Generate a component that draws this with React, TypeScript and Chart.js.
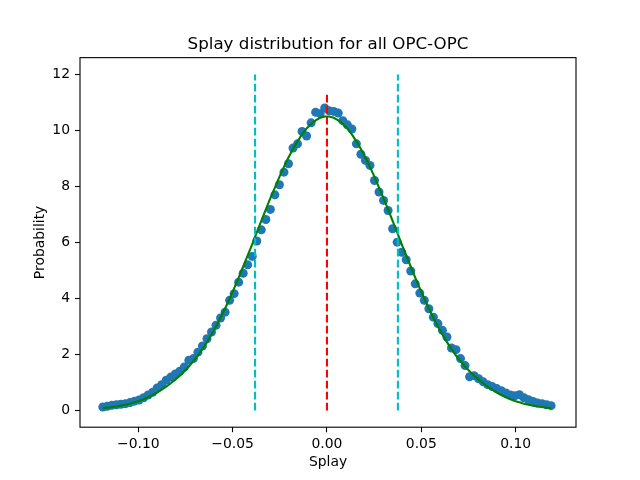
import { useEffect, useRef } from "react";
import { Chart, registerables } from "chart.js";

Chart.register(...registerables);

// bin centres of the splay histogram
const SPLAY = [
  -0.1188, -0.1164, -0.114, -0.1116, -0.1092, -0.1068, -0.1044, -0.102, -0.0996, -0.0972,
  -0.0948, -0.0924, -0.09, -0.0876, -0.0852, -0.0828, -0.0804, -0.078, -0.0756, -0.0732,
  -0.0708, -0.0684, -0.066, -0.0636, -0.0612, -0.0588, -0.0564, -0.054, -0.0516, -0.0492,
  -0.0468, -0.0444, -0.042, -0.0396, -0.0372, -0.0348, -0.0324, -0.03, -0.0276, -0.0252,
  -0.0228, -0.0204, -0.018, -0.0156, -0.0132, -0.0108, -0.0084, -0.006, -0.0036, -0.0012,
  0.0012, 0.0036, 0.006, 0.0084, 0.0108, 0.0132, 0.0156, 0.018, 0.0204, 0.0228,
  0.0252, 0.0276, 0.03, 0.0324, 0.0348, 0.0372, 0.0396, 0.042, 0.0444, 0.0468,
  0.0492, 0.0516, 0.054, 0.0564, 0.0588, 0.0612, 0.0636, 0.066, 0.0684, 0.0708,
  0.0732, 0.0756, 0.078, 0.0804, 0.0828, 0.0852, 0.0876, 0.09, 0.0924, 0.0948,
  0.0972, 0.0996, 0.102, 0.1044, 0.1068, 0.1092, 0.1116, 0.114, 0.1164, 0.1188,
];

// measured probability per bin
const PROBABILITY = [
  0.12, 0.15, 0.18, 0.2, 0.22, 0.24, 0.28, 0.33, 0.37, 0.45,
  0.55, 0.65, 0.8, 0.92, 1.08, 1.19, 1.3, 1.4, 1.55, 1.79,
  1.85, 2.08, 2.3, 2.56, 2.8, 3.04, 3.3, 3.51, 3.93, 4.17,
  4.58, 4.9, 5.2, 5.5, 6.05, 6.45, 6.82, 7.18, 7.7, 8.06,
  8.51, 8.81, 9.37, 9.52, 9.96, 9.8, 10.27, 10.65, 10.6, 10.8,
  10.7, 10.68, 10.62, 10.35, 10.2, 10.05, 9.52, 9.15, 8.93, 8.75,
  8.21, 7.8, 7.5, 7.14, 6.49, 6.01, 5.65, 5.38, 4.98, 4.52,
  4.19, 3.93, 3.63, 3.33, 3.1, 2.86, 2.62, 2.23, 2.17, 1.85,
  1.6, 1.2, 1.24, 1.13, 1.02, 0.92, 0.85, 0.78, 0.7, 0.62,
  0.55, 0.52, 0.56, 0.45, 0.38, 0.32, 0.26, 0.24, 0.2, 0.17,
];

// fitted gaussian
const FIT = [
  0.08, 0.1, 0.12, 0.14, 0.17, 0.2, 0.24, 0.29, 0.34, 0.4,
  0.47, 0.55, 0.64, 0.74, 0.85, 0.97, 1.1, 1.24, 1.4, 1.57,
  1.76, 1.96, 2.19, 2.44, 2.71, 3.0, 3.31, 3.64, 3.99, 4.36,
  4.74, 5.14, 5.54, 5.94, 6.36, 6.77, 7.18, 7.58, 7.96, 8.34,
  8.7, 9.03, 9.34, 9.61, 9.86, 10.07, 10.23, 10.36, 10.45, 10.5,
  10.5, 10.45, 10.36, 10.23, 10.07, 9.86, 9.61, 9.34, 9.03, 8.7,
  8.34, 7.96, 7.58, 7.18, 6.77, 6.36, 5.94, 5.54, 5.14, 4.74,
  4.36, 3.99, 3.64, 3.31, 3.0, 2.71, 2.44, 2.19, 1.96, 1.76,
  1.57, 1.4, 1.24, 1.1, 0.97, 0.85, 0.74, 0.64, 0.55, 0.47,
  0.4, 0.34, 0.29, 0.24, 0.2, 0.17, 0.14, 0.12, 0.1, 0.08,
];

const MEAN_X = 0;
const MEAN_TOP = 11.34;
const SIGMA_X = [-0.0381, 0.0376];
const SIGMA_TOP = 12;

const X_TICKS = [-0.1, -0.05, 0, 0.05, 0.1];
const X_TICK_LABELS = ["\u22120.10", "\u22120.05", "0.00", "0.05", "0.10"];
const Y_TICKS = [0, 2, 4, 6, 8, 10, 12];
const Y_TICK_LABELS = ["0", "2", "4", "6", "8", "10", "12"];

const FONT = "DejaVu Sans";
const DASH = [7.7, 3.3];

const frame = {
  id: "frame",
  afterDatasetsDraw(chart: Chart) {
    const { ctx, chartArea: a } = chart;
    ctx.save();
    ctx.strokeStyle = "#000";
    ctx.lineWidth = 1.1;
    ctx.strokeRect(a.left, a.top, a.right - a.left, a.bottom - a.top);
    ctx.restore();
  },
};

export default function App() {
  const canvasRef = useRef<HTMLCanvasElement>(null);

  useEffect(() => {
    if (!canvasRef.current) return;

    const points = SPLAY.map((x, i) => ({ x, y: PROBABILITY[i] }));
    const fit = SPLAY.map((x, i) => ({ x, y: FIT[i] }));
    const vline = (x: number, top: number) => [
      { x, y: 0 },
      { x, y: top },
    ];

    const chart = new Chart(canvasRef.current, {
      type: "scatter",
      data: {
        datasets: [
          {
            data: fit,
            showLine: true,
            borderColor: "#008000",
            borderWidth: 2.1,
            pointRadius: 0,
            order: 2,
          },
          {
            data: vline(MEAN_X, MEAN_TOP),
            showLine: true,
            borderColor: "#ff0000",
            borderWidth: 2.1,
            borderDash: DASH,
            pointRadius: 0,
            order: 1,
          },
          ...SIGMA_X.map((x) => ({
            data: vline(x, SIGMA_TOP),
            showLine: true,
            borderColor: "#00bfbf",
            borderWidth: 2.1,
            borderDash: DASH,
            pointRadius: 0,
            order: 1,
          })),
          {
            data: points,
            backgroundColor: "#1f77b4",
            borderWidth: 0,
            pointRadius: 4.5,
            order: 3,
          },
        ],
      },
      options: {
        responsive: false,
        animation: false,
        layout: { padding: { left: 0, right: 64, top: 0, bottom: 0 } },
        plugins: {
          legend: { display: false },
          tooltip: { enabled: false },
          title: {
            display: true,
            fullSize: false,
            text: "Splay distribution for all OPC-OPC",
            color: "#000",
            font: { family: FONT, size: 16.7, weight: "normal" },
            padding: { top: 34.5, bottom: 3.1 },
          },
        },
        scales: {
          x: {
            type: "linear",
            min: -0.1309,
            max: 0.132,
            afterFit: (s: any) => {
              s.height = 52.8;
            },
            afterBuildTicks: (s: any) => {
              s.ticks = X_TICKS.map((value) => ({ value }));
            },
            border: { display: false },
            grid: {
              drawOnChartArea: false,
              tickLength: 5,
              tickColor: "#000",
              tickWidth: 1.1,
            },
            ticks: {
              color: "#000",
              padding: 4,
              autoSkip: false,
              maxRotation: 0,
              font: { family: FONT, size: 13.9 },
              callback: (_v: any, i: number) => X_TICK_LABELS[i],
            },
            title: {
              display: true,
              text: "Splay",
              color: "#000",
              font: { family: FONT, size: 13.9 },
              padding: { top: 0, bottom: 9 },
            },
          },
          y: {
            type: "linear",
            min: -0.6,
            max: 12.6,
            afterFit: (s: any) => {
              s.width = 80;
            },
            afterBuildTicks: (s: any) => {
              s.ticks = Y_TICKS.map((value) => ({ value }));
            },
            border: { display: false },
            grid: {
              drawOnChartArea: false,
              tickLength: 5,
              tickColor: "#000",
              tickWidth: 1.1,
            },
            ticks: {
              color: "#000",
              padding: 5,
              autoSkip: false,
              font: { family: FONT, size: 13.9 },
              callback: (_v: any, i: number) => Y_TICK_LABELS[i],
            },
            title: {
              display: true,
              text: "Probability",
              color: "#000",
              font: { family: FONT, size: 13.9 },
              padding: { top: 31.7, bottom: 0 },
            },
          },
        },
      },
      plugins: [frame],
    });

    return () => {
      chart.destroy();
    };
  }, []);

  return (
    <div style={{ position: "absolute", left: 0, top: 0, width: 640, height: 480, background: "#fff" }}>
      <canvas ref={canvasRef} width={640} height={480} />
    </div>
  );
}
